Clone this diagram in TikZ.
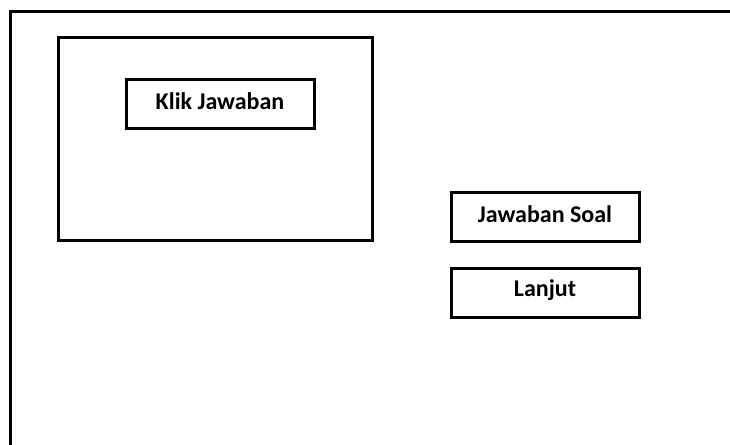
\documentclass[tikz,border=0pt]{standalone}
\usepackage{fontspec}
\setmainfont{Carlito}
\begin{document}
\begin{tikzpicture}[x=1pt,y=-1pt,
  frame/.style={draw=black,line width=3pt},
  btn/.style={draw=black,line width=3pt},
  lbl/.style={font=\bfseries\fontsize{24}{28}\selectfont,yshift=2pt}]
\useasboundingbox (0,0) rectangle (730,444);
\coordinate (tr) at (731,12);
\coordinate (tl) at (10,12);
\coordinate (bl) at (10,445);
\draw[frame] (tr) -- (tl) -- (bl);
\draw[frame] (58,38) rectangle (372,240);
\draw[btn] (126,79) rectangle node[lbl] (klik) {Klik Jawaban} (314,128);
\draw[btn] (451,192) rectangle node[lbl] (soal) {Jawaban Soal} (639,241);
\draw[btn] (451,268) rectangle node[lbl] (lanjut) {Lanjut} (639,317);
\end{tikzpicture}
\end{document}
